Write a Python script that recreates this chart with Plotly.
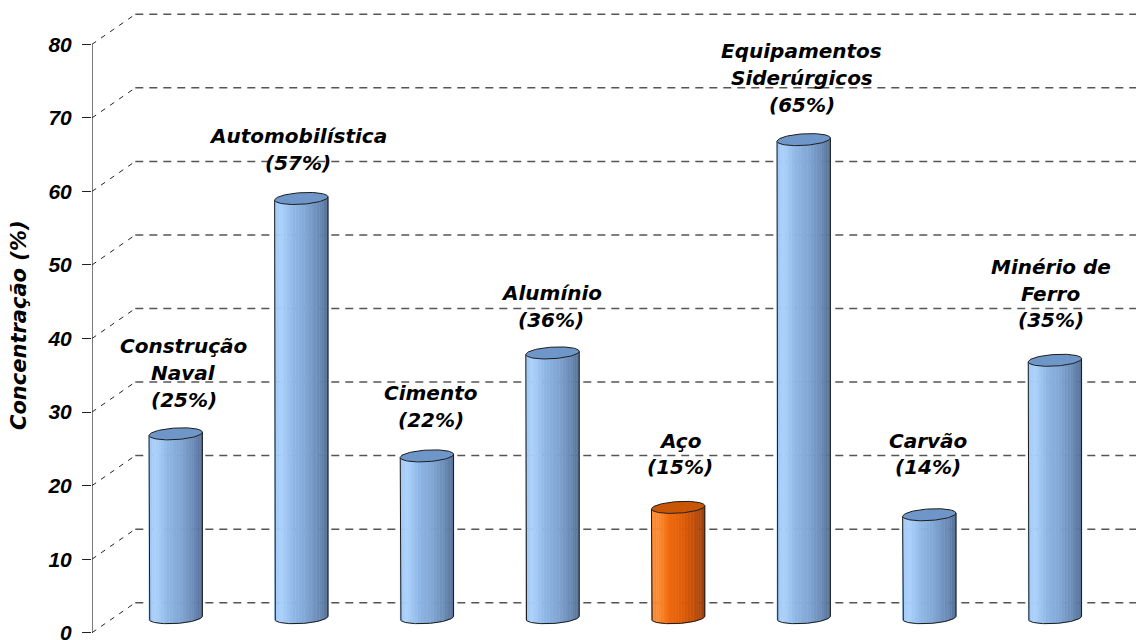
import numpy as np
import plotly.graph_objects as go

# ---- data ---------------------------------------------------------------
categories = [
    "Construção\nNaval",
    "Automobilística",
    "Cimento",
    "Alumínio",
    "Aço",
    "Equipamentos\nSiderúrgicos",
    "Carvão",
    "Minério de\nFerro",
]
concentration = [25, 57, 22, 36, 15, 65, 14, 35]
y_ticks = [0, 10, 20, 30, 40, 50, 60, 70, 80]
highlight = "Aço"

# ---- label placement (pixels) --------------------------------------------
label_dx = [8, -3, 4, -1.5, 2, -2, -1, -4]
label_lift = [34, 35.5, 36, 33, 40, 35, 47.5, 40]
LINE_GAP = 26.7

# ---- geometry -----------------------------------------------------------
W, H = 1136, 640
LEFT = 92
PX_X = 125.6          # pixels per category step
PX_Y = 7.355          # pixels per percentage point
X_MIN = (LEFT - 175.7) / PX_X
X_MAX = X_MIN + (W - LEFT) / PX_X
Y_MIN = -(H - 632.7) / PX_Y
Y_MAX = 632.7 / PX_Y
DEPTH_X = 43.3 / PX_X
DEPTH_Y = 30.0 / PX_Y

A, B = 26.7, 5.8      # ellipse semi-axes (px)
PHI = np.deg2rad(3.6)
N_STRIPS = 26

palettes = {
    "blue": [(0.0, (158, 198, 242)), (0.12, (172, 210, 252)), (0.35, (143, 183, 229)),
             (0.6, (128, 165, 211)), (0.85, (104, 137, 180)), (1.0, (84, 110, 148))],
    "orange": [(0.0, (250, 128, 38)), (0.12, (255, 140, 48)), (0.35, (238, 104, 14)),
               (0.6, (222, 92, 8)), (0.85, (186, 76, 10)), (1.0, (150, 60, 10))],
}
top_colors = {"blue": "rgb(110,150,200)", "orange": "rgb(200,86,6)"}
EDGE = "rgb(28,28,28)"


def shade(palette, u):
    stops = palettes[palette]
    for (u0, c0), (u1, c1) in zip(stops[:-1], stops[1:]):
        if u <= u1:
            t = (u - u0) / (u1 - u0) if u1 > u0 else 0
            c = [round(a + (b - a) * t) for a, b in zip(c0, c1)]
            return f"rgb({c[0]},{c[1]},{c[2]})"
    c = stops[-1][1]
    return f"rgb({c[0]},{c[1]},{c[2]})"


def ellipse(theta, cx, cy):
    ex = A * np.cos(theta) * np.cos(PHI) - B * np.sin(theta) * np.sin(PHI)
    ey = A * np.cos(theta) * np.sin(PHI) + B * np.sin(theta) * np.cos(PHI)
    return cx + ex / PX_X, cy + ey / PX_Y


fig = go.Figure()

# ---- back-wall gridlines ------------------------------------------------
shapes = []
for v in y_ticks:
    bx, by = X_MIN + DEPTH_X, v + DEPTH_Y
    shapes.append(dict(type="line", xref="x", yref="y", x0=X_MIN, y0=v, x1=bx, y1=by,
                       line=dict(color="#222", width=1, dash="5px,6px"), layer="below"))
    shapes.append(dict(type="line", xref="x", yref="y", x0=bx, y0=by, x1=X_MAX, y1=by,
                       line=dict(color="#555", width=1.5, dash="8px,6px"), layer="below"))
# vertical axis line
shapes.append(dict(type="line", xref="x", yref="y", x0=X_MIN, y0=0, x1=X_MIN, y1=y_ticks[-1],
                   line=dict(color="#222", width=1.2)))

# ---- cylinders ----------------------------------------------------------
for i, (name, v) in enumerate(zip(categories, concentration)):
    pal = "orange" if name == highlight else "blue"
    y0 = DEPTH_Y / 2
    y1 = v + DEPTH_Y / 2
    thetas = np.linspace(np.pi, 2 * np.pi, N_STRIPS + 1)
    for j in range(N_STRIPS):
        th = np.linspace(thetas[j], thetas[j + 1], 4)
        bx, by = ellipse(th, i, y0)
        tx, ty = ellipse(th[::-1], i, y1)
        xs = np.concatenate([bx, tx, bx[:1]])
        ys = np.concatenate([by, ty, by[:1]])
        u = (np.cos(0.5 * (thetas[j] + thetas[j + 1])) + 1) / 2
        col = shade(pal, u)
        fig.add_trace(go.Scatter(x=xs, y=ys, mode="lines", fill="toself", fillcolor=col,
                                 line=dict(color=col, width=0.5), hoverinfo="skip",
                                 showlegend=False))
    # outline of body
    arc = np.linspace(np.pi, 2 * np.pi, 60)
    ax, ay = ellipse(arc, i, y0)
    lx, ly = ellipse(np.array([np.pi]), i, y1)
    rx, ry = ellipse(np.array([2 * np.pi]), i, y1)
    fig.add_trace(go.Scatter(x=np.concatenate([lx, ax, rx]), y=np.concatenate([ly, ay, ry]),
                             mode="lines", line=dict(color=EDGE, width=1),
                             hoverinfo="skip", showlegend=False))
    # top cap
    full = np.linspace(0, 2 * np.pi, 90)
    cx_, cy_ = ellipse(full, i, y1)
    fig.add_trace(go.Scatter(x=cx_, y=cy_, mode="lines", fill="toself",
                             fillcolor=top_colors[pal], line=dict(color=EDGE, width=1),
                             hoverinfo="skip", showlegend=False))

# ---- value labels -------------------------------------------------------
annotations = []
LABEL_FONT = dict(family="DejaVu Sans", size=20, color="black")
for i, (name, v) in enumerate(zip(categories, concentration)):
    lines = name.split("\n") + [f"({v}%)"]
    n = len(lines)
    for k, txt in enumerate(lines):
        annotations.append(dict(
            x=i, y=v + DEPTH_Y / 2, xref="x", yref="y",
            text=f"<b><i>{txt}</i></b>", showarrow=False,
            xanchor="center", yanchor="middle",
            xshift=label_dx[i], yshift=label_lift[i] + (n - 1 - k) * LINE_GAP,
            font=LABEL_FONT,
        ))

# axis title
annotations.append(dict(
    x=(19 - LEFT) / (W - LEFT), xref="paper", y=(632.7 - 325) / PX_Y, yref="y",
    text="<b><i>Concentração (%)</i></b>", textangle=-90, showarrow=False,
    xanchor="center", yanchor="middle",
    font=dict(family="DejaVu Sans", size=21, color="black"),
))

fig.update_layout(
    width=W, height=H,
    margin=dict(l=LEFT, r=0, t=0, b=0, autoexpand=False),
    paper_bgcolor="white", plot_bgcolor="white",
    showlegend=False,
    shapes=shapes,
    annotations=annotations,
    xaxis=dict(range=[X_MIN, X_MAX], visible=False, fixedrange=True, automargin=False),
    yaxis=dict(
        range=[Y_MIN, Y_MAX], showgrid=False, zeroline=False, showline=False,
        automargin=False,
        tickmode="array", tickvals=y_ticks,
        ticktext=[f"<b><i>{t}</i></b>" for t in y_ticks],
        ticks="outside", ticklen=9, tickwidth=1.2, tickcolor="#222",
        ticklabelstandoff=6, ticklabeloverflow="allow",
        tickfont=dict(family="Liberation Sans, Arial", size=21, color="black"),
        fixedrange=True,
    ),
)

fig.write_html("out.html")
